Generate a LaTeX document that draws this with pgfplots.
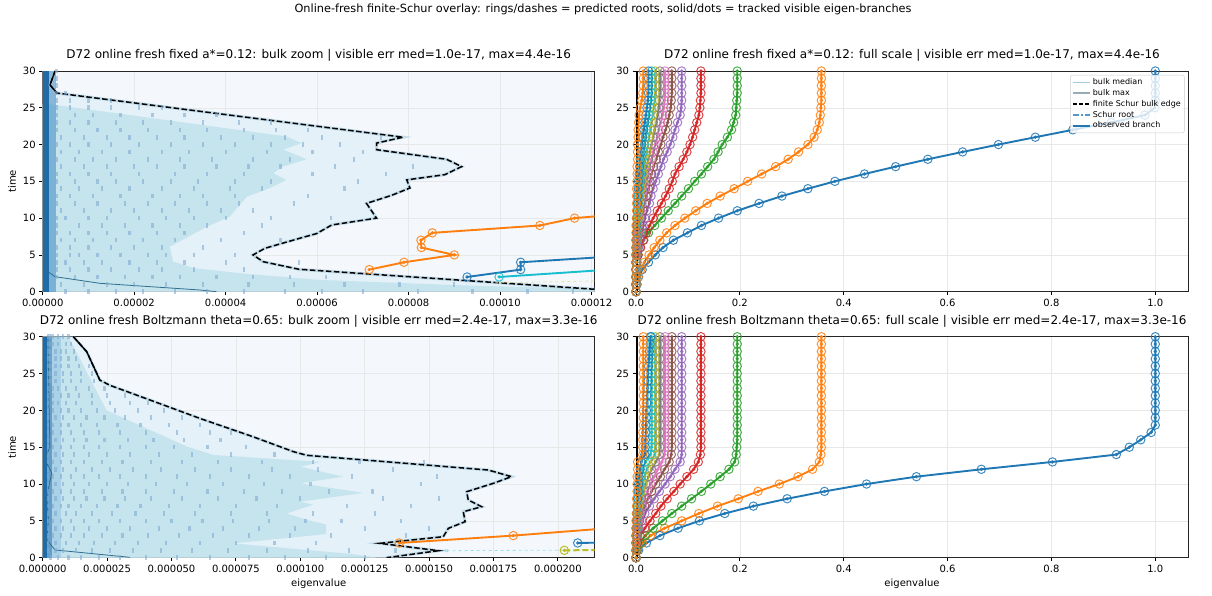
\documentclass[border=0pt]{standalone}
\usepackage{fontspec}
\setmainfont{DejaVu Sans}
\usepackage{pgfplots}
\usepackage{pgfplotstable}
\pgfplotsset{compat=1.18}

\definecolor{tabblue}{HTML}{1F77B4}
\definecolor{taborange}{HTML}{FF7F0E}
\definecolor{tabgreen}{HTML}{2CA02C}
\definecolor{tabred}{HTML}{D62728}
\definecolor{tabpurple}{HTML}{9467BD}
\definecolor{tabbrown}{HTML}{8C564B}
\definecolor{tabpink}{HTML}{E377C2}
\definecolor{tabgray}{HTML}{7F7F7F}
\definecolor{tabolive}{HTML}{BCBD22}
\definecolor{tabcyan}{HTML}{17BECF}
\definecolor{bgA}{HTML}{F4F8FC}
\definecolor{regA}{HTML}{E4F1F8}
\definecolor{regB}{HTML}{C6E4EE}
\definecolor{ptc}{HTML}{7FABD2}
\definecolor{colA}{HTML}{1F6BA8}
\definecolor{colB}{HTML}{4A8FC4}
\definecolor{colC}{HTML}{8FBFDF}
\definecolor{medline}{HTML}{2F6F8F}
\definecolor{bulkmed}{HTML}{A6CBE0}
\definecolor{bulkmax}{HTML}{9AABB8}
\definecolor{schur}{HTML}{5599CC}

\pgfdeclareplotmark{ringdot}{%
  \pgfpathcircle{\pgfpointorigin}{\pgfplotmarksize}\pgfusepathqstroke
  \pgfpathcircle{\pgfpointorigin}{0.28\pgfplotmarksize}\pgfusepathqfillstroke}

\pgfplotsset{
  panel/.style={
    scale only axis, width=552pt, height=220.7pt, anchor=south west,
    xmin=0, ymin=0, ymax=30, ytick={0,5,...,30},
    tick align=outside, tick pos=left, major tick length=3.5pt,
    every tick/.style={black, line width=0.8pt},
    axis line style={line width=0.8pt, black!85},
    grid=major, major grid style={black!9, line width=0.5pt},
    ticklabel style={font=\fontsize{10}{12}\selectfont},
    /pgf/number format/assume math mode=true,
    scaled x ticks=false,
    title style={font=\fontsize{12}{14}\selectfont, anchor=base, yshift=6pt},
    label style={font=\fontsize{10}{12}\selectfont},
  },
  branch/.style={line width=1.9pt, mark=ringdot, mark size=4.2pt,
    mark options={solid, line width=1pt, draw opacity=0.85}},
  pts/.style={only marks, mark=|, mark size=2.3pt, ptc, opacity=0.6,
    mark options={line width=2.2pt}},
}

\pgfplotstableread{
t a b c d e f g h i j k l
0 0 0 0 0 0 0 0 0 0 0 0 0
1 0.002 0.001 0 0 0 0 0 0 0 0 0 0
2 0.005 0.004 0.001 0 0 0 0 0 0 0 0 0
3 0.012 0.009 0.001 0 0 0 0 0 0 0 0 0
4 0.024 0.016 0.002 0.001 0 0 0.001 0 0 0 0 0
5 0.037 0.025 0.004 0.004 0.002 0.001 0.001 0.001 0 0 0 0
6 0.052 0.035 0.008 0.009 0.005 0.003 0.002 0.001 0.001 0 0 0
7 0.072 0.046 0.015 0.014 0.008 0.004 0.003 0.002 0.001 0.001 0 0
8 0.099 0.059 0.024 0.020 0.011 0.006 0.004 0.003 0.002 0.001 0.001 0
9 0.126 0.075 0.036 0.026 0.014 0.008 0.005 0.004 0.003 0.002 0.001 0
10 0.159 0.094 0.049 0.033 0.017 0.011 0.007 0.005 0.004 0.002 0.001 0.001
11 0.195 0.115 0.062 0.041 0.021 0.014 0.009 0.007 0.005 0.003 0.002 0.001
12 0.237 0.137 0.075 0.049 0.026 0.017 0.011 0.009 0.006 0.004 0.003 0.001
13 0.281 0.162 0.088 0.057 0.029 0.020 0.014 0.011 0.008 0.005 0.003 0.001
14 0.331 0.189 0.101 0.064 0.033 0.024 0.017 0.013 0.010 0.006 0.004 0.001
15 0.383 0.215 0.113 0.070 0.038 0.027 0.020 0.016 0.012 0.008 0.005 0.002
16 0.440 0.242 0.126 0.075 0.043 0.030 0.023 0.018 0.014 0.009 0.006 0.002
17 0.500 0.269 0.138 0.083 0.048 0.034 0.026 0.021 0.016 0.011 0.007 0.002
18 0.562 0.293 0.150 0.091 0.053 0.039 0.030 0.024 0.018 0.012 0.008 0.003
19 0.629 0.313 0.158 0.098 0.060 0.043 0.033 0.027 0.021 0.014 0.010 0.003
20 0.698 0.331 0.166 0.104 0.066 0.048 0.037 0.030 0.023 0.016 0.011 0.003
21 0.769 0.343 0.176 0.109 0.071 0.052 0.041 0.033 0.025 0.018 0.013 0.004
22 0.841 0.349 0.184 0.113 0.075 0.057 0.044 0.036 0.028 0.020 0.015 0.004
23 0.915 0.353 0.188 0.117 0.080 0.061 0.048 0.039 0.030 0.022 0.017 0.005
24 0.980 0.355 0.192 0.121 0.085 0.064 0.051 0.042 0.032 0.025 0.019 0.006
25 0.999 0.356 0.193 0.123 0.087 0.067 0.054 0.044 0.034 0.027 0.021 0.008
26 1.000 0.357 0.194 0.124 0.088 0.068 0.055 0.045 0.036 0.029 0.023 0.011
27 1.000 0.357 0.195 0.125 0.088 0.069 0.056 0.046 0.037 0.030 0.024 0.013
28 1.000 0.357 0.195 0.125 0.088 0.069 0.056 0.046 0.037 0.030 0.024 0.014
29 1.000 0.357 0.195 0.125 0.088 0.069 0.056 0.046 0.037 0.030 0.024 0.014
30 1.000 0.357 0.195 0.125 0.088 0.069 0.056 0.046 0.037 0.030 0.024 0.014
}\tabfixed

\pgfplotstableread{
t a b c d e f g h i j k l
0 0 0 0 0 0 0 0 0 0 0 0 0
1 0.005 0.003 0.002 0.001 0 0 0 0 0 0 0 0
2 0.020 0.012 0.008 0.003 0.001 0.001 0 0 0 0 0 0
3 0.046 0.028 0.018 0.008 0.003 0.002 0.001 0.001 0 0 0 0
4 0.081 0.055 0.033 0.017 0.006 0.004 0.003 0.002 0.001 0.001 0 0
5 0.122 0.088 0.051 0.027 0.011 0.007 0.005 0.003 0.002 0.001 0.001 0
6 0.171 0.121 0.069 0.038 0.017 0.011 0.008 0.005 0.003 0.002 0.001 0.001
7 0.226 0.157 0.088 0.048 0.026 0.017 0.012 0.008 0.005 0.003 0.002 0.001
8 0.291 0.197 0.107 0.060 0.035 0.023 0.016 0.011 0.007 0.004 0.003 0.001
9 0.363 0.235 0.126 0.073 0.045 0.030 0.022 0.015 0.010 0.006 0.004 0.002
10 0.444 0.276 0.144 0.085 0.056 0.038 0.028 0.019 0.013 0.008 0.005 0.002
11 0.540 0.312 0.162 0.098 0.066 0.047 0.035 0.024 0.017 0.010 0.006 0.002
12 0.665 0.340 0.179 0.111 0.075 0.055 0.042 0.030 0.021 0.013 0.008 0.003
13 0.802 0.353 0.190 0.120 0.085 0.064 0.050 0.038 0.028 0.018 0.010 0.003
14 0.925 0.356 0.193 0.124 0.088 0.068 0.055 0.045 0.036 0.028 0.017 0.013
15 0.950 0.357 0.194 0.125 0.088 0.069 0.056 0.046 0.037 0.030 0.018 0.013
16 0.972 0.357 0.195 0.125 0.088 0.069 0.056 0.046 0.037 0.030 0.018 0.013
17 0.992 0.357 0.195 0.125 0.088 0.069 0.056 0.046 0.037 0.030 0.019 0.013
18 1.000 0.357 0.195 0.125 0.088 0.069 0.056 0.046 0.037 0.030 0.019 0.014
19 1.000 0.357 0.195 0.125 0.088 0.069 0.056 0.046 0.037 0.030 0.020 0.014
20 1.000 0.357 0.195 0.125 0.088 0.069 0.056 0.046 0.037 0.030 0.020 0.014
21 1.000 0.357 0.195 0.125 0.088 0.069 0.056 0.046 0.037 0.030 0.021 0.014
22 1.000 0.357 0.195 0.125 0.088 0.069 0.056 0.046 0.037 0.030 0.021 0.014
23 1.000 0.357 0.195 0.125 0.088 0.069 0.056 0.046 0.037 0.030 0.022 0.014
24 1.000 0.357 0.195 0.125 0.088 0.069 0.056 0.046 0.037 0.030 0.023 0.014
25 1.000 0.357 0.195 0.125 0.088 0.069 0.056 0.046 0.037 0.030 0.023 0.014
26 1.000 0.357 0.195 0.125 0.088 0.069 0.056 0.046 0.037 0.030 0.024 0.014
27 1.000 0.357 0.195 0.125 0.088 0.069 0.056 0.046 0.037 0.030 0.025 0.014
28 1.000 0.357 0.195 0.125 0.088 0.069 0.056 0.046 0.037 0.030 0.026 0.014
29 1.000 0.357 0.195 0.125 0.088 0.069 0.056 0.046 0.037 0.030 0.027 0.014
30 1.000 0.357 0.195 0.125 0.088 0.069 0.056 0.046 0.037 0.030 0.028 0.014
}\tabboltz

\begin{document}
\begin{tikzpicture}
\path[use as bounding box] (0pt,0pt) rectangle (1212pt,596pt);
\node[anchor=base, font=\fontsize{11.3}{13}\selectfont] at (603pt,583.8pt)
  {Online-fresh finite-Schur overlay: rings/dashes = predicted roots, solid/dots = tracked visible eigen-branches};

% ---------- top left: fixed, bulk zoom (x in units of 1e-5)
\begin{axis}[panel, at={(42.7pt,304.3pt)}, xmax=12.07,
  xtick={0,2,4,6,8,10,12},
  xticklabels={0.00000,0.00002,0.00004,0.00006,0.00008,0.00010,0.00012},
  ylabel={time}, axis background/.style={fill=bgA},
  title={D72 online fresh fixed a*=0.12: bulk zoom | visible err med=1.0e-17, max=4.4e-16}]
\addplot[draw=none, fill=regA] coordinates {(0,0) (12.07,0) (12.07,0.33) (5.6,3.05)
  (4.82,4.08) (4.6,5.0) (4.86,5.9) (5.62,7.26) (5.99,7.9) (6.32,9.07) (7.3,10)
  (7.08,12) (7.63,13.1) (8.03,14.1) (7.96,15.2) (8.79,15.9) (9.16,17) (8.83,18)
  (7.3,19.3) (7.3,20.2) (7.88,21) (0.31,27) (0.16,28.1) (0.27,30) (0,30)} --cycle;
\addplot[draw=none, fill=regB] coordinates {(0,0) (12.07,0) (12.07,0.35) (9,0.9)
  (6.06,1.6) (4.5,2.4) (3.3,3.2) (2.85,4.1) (2.78,6.1) (3.58,8.8) (4.09,10.2)
  (4.46,12.9) (4.97,14.1) (5.33,15.2) (5.04,16.1) (5.25,17) (5.77,18) (5.26,19.3)
  (5.66,20.2) (5.33,21.1) (0.15,25.5) (0,25.5)} --cycle;
\addplot[draw=none, fill=colB, opacity=0.6] coordinates {(0,0) (0.28,0) (0.28,30) (0,30)} --cycle;
\addplot[draw=none, fill=colA] coordinates {(0,0) (0.13,0) (0.13,30) (0,30)} --cycle;
\addplot[pts] coordinates {
 (0.5,0) (1.0,0) (1.6,0) (2.2,0) (2.9,0) (3.6,0) (4.4,0) (5.3,0) (6.1,0) (7.0,0) (8.2,0) (9.4,0) (10.6,0) (11.6,0)
 (0.4,1) (0.9,1) (1.4,1) (2.0,1) (2.7,1) (3.5,1) (4.5,1) (5.5,1) (6.6,1) (7.8,1) (9.0,1)
 (0.3,2) (0.7,2) (1.2,2) (1.8,2) (2.4,2) (3.0,2) (3.8,2) (4.6,2) (5.4,2) (6.2,2)
 (0.3,3) (0.6,3) (1.0,3) (1.5,3) (2.1,3) (2.6,3) (3.3,3) (4.4,3)
 (0.3,4) (0.5,4) (0.9,4) (1.3,4) (1.9,4) (2.5,4) (3.1,4) (4.0,4) (5.6,4)
 (0.3,5) (0.6,5) (0.8,5) (1.2,5) (1.7,5) (2.3,5) (2.7,5) (3.3,5) (4.2,5)
 (0.3,6) (0.6,6) (1.0,6) (1.5,6) (2.0,6) (2.6,6) (3.5,6)
 (0.4,7) (0.7,7) (1.1,7) (1.6,7) (2.2,7) (2.9,7) (3.9,7) (5.2,7)
 (0.3,8) (0.6,8) (1.0,8) (1.4,8) (1.9,8) (2.5,8) (3.1,8) (4.4,8)
 (0.3,9) (0.8,9) (1.3,9) (1.8,9) (2.4,9) (3.0,9) (3.6,9) (4.8,9)
 (0.3,10) (0.5,10) (1.0,10) (1.4,10) (2.1,10) (2.7,10) (3.3,10) (4.0,10) (5.0,10) (6.3,10)
 (0.4,11) (0.9,11) (1.5,11) (2.0,11) (2.6,11) (3.2,11) (3.9,11) (4.6,11)
 (0.3,12) (0.7,12) (1.2,12) (1.8,12) (2.3,12) (2.9,12) (3.6,12) (4.3,12) (5.5,12)
 (0.3,13) (0.6,13) (1.1,13) (1.7,13) (2.4,13) (3.0,13) (3.5,13) (4.2,13) (5.8,13)
 (0.4,14) (0.8,14) (1.3,14) (1.9,14) (2.6,14) (3.3,14) (4.1,14) (4.8,14) (6.6,14)
 (0.3,15) (0.7,15) (1.2,15) (1.6,15) (2.2,15) (2.8,15) (3.4,15) (4.2,15) (5.0,15) (6.9,15)
 (0.3,16) (0.6,16) (1.0,16) (1.5,16) (2.1,16) (2.9,16) (3.6,16) (4.4,16) (5.9,16) (7.5,16)
 (0.4,17) (0.9,17) (1.4,17) (2.0,17) (2.5,17) (3.1,17) (3.8,17) (4.5,17) (5.2,17) (6.4,17) (8.1,17)
 (0.3,18) (0.7,18) (1.1,18) (1.6,18) (2.3,18) (3.0,18) (3.7,18) (4.6,18) (5.4,18) (6.8,18)
 (0.4,19) (0.8,19) (1.3,19) (1.9,19) (2.6,19) (3.2,19) (4.0,19) (4.9,19) (5.9,19) (7.0,19)
 (0.3,20) (0.6,20) (1.0,20) (1.5,20) (2.1,20) (2.8,20) (3.5,20) (4.2,20) (5.0,20) (5.7,20) (6.5,20)
 (0.4,21) (0.9,21) (1.4,21) (1.9,21) (2.5,21) (3.1,21) (3.9,21) (4.6,21) (5.3,21) (6.1,21) (7.4,21)
 (0.3,22) (0.7,22) (1.2,22) (1.7,22) (2.3,22) (3.0,22) (3.6,22) (4.4,22) (5.1,22) (5.8,22)
 (0.3,23) (0.6,23) (1.0,23) (1.6,23) (2.2,23) (2.8,23) (3.5,23) (4.3,23) (5.0,23)
 (0.3,24) (0.7,24) (1.1,24) (1.7,24) (2.4,24) (3.1,24) (3.8,24)
 (0.3,25) (0.6,25) (1.0,25) (1.5,25) (2.1,25) (2.6,25)
 (0.3,26) (0.6,26) (1.0,26) (1.5,26)
 (0.3,27) (0.5,27) (0.3,28) (0.3,29) (0.3,30)};
\addplot[medline, line width=0.8pt] coordinates {(0.05,30) (0.05,3.0) (0.27,2.04) (1.25,1.14) (3.44,0.23) (3.8,0)};
\addplot[bulkmed, line width=3pt, opacity=0.6] coordinates {(12.07,0.33) (5.6,3.05)
  (4.82,4.08) (4.6,5.0) (4.86,5.9) (5.62,7.26) (5.99,7.9) (6.32,9.07) (7.3,10)
  (7.08,12) (7.63,13.1) (8.03,14.1) (7.96,15.2) (8.79,15.9) (9.16,17) (8.83,18)
  (7.3,19.3) (7.3,20.2) (7.88,21) (0.31,27) (0.16,28.1) (0.27,30)};
\addplot[black, line width=1.5pt, dash pattern=on 5.5pt off 2.5pt] coordinates {(12.07,0.33) (5.6,3.05)
  (4.82,4.08) (4.6,5.0) (4.86,5.9) (5.62,7.26) (5.99,7.9) (6.32,9.07) (7.3,10)
  (7.08,12) (7.63,13.1) (8.03,14.1) (7.96,15.2) (8.79,15.9) (9.16,17) (8.83,18)
  (7.3,19.3) (7.3,20.2) (7.88,21) (0.31,27) (0.16,28.1) (0.27,30)};
\addplot[black, line width=1.3pt] coordinates {(0.31,27) (0.16,28.1) (0.27,30)};
\addplot[taborange, branch] coordinates {(7.14,3) (7.90,4) (9.0,5) (8.28,6) (8.27,7) (8.52,8) (10.87,9) (11.63,10) (13.5,11)};
\addplot[tabblue, branch] coordinates {(9.28,2) (10.45,3) (10.45,4) (13.0,5)};
\addplot[tabcyan, branch] coordinates {(9.98,2) (12.4,3)};
\addplot[tabolive!40, line width=0.8pt, dashed] coordinates {(9.9,1.2) (12.07,1.45)};
\end{axis}

% ---------- top right: fixed, full scale
\begin{axis}[panel, at={(636pt,304.3pt)}, xmax=1.063,
  xtick={0,0.2,0.4,0.6,0.8,1.0}, xticklabels={0.0,0.2,0.4,0.6,0.8,1.0},
  title={D72 online fresh fixed a*=0.12: full scale | visible err med=1.0e-17, max=4.4e-16},
  legend cell align=left,
  legend style={at={(1,1)}, anchor=north east, xshift=-3.5pt, yshift=-4pt,
    font=\fontsize{8}{9.5}\selectfont, draw=black!20, fill=white, fill opacity=0.8,
    text opacity=1, rounded corners=2pt, inner sep=1.5pt, row sep=-0.8pt}]
\addplot[tabblue, branch, forget plot] table[x=a, y=t] {\tabfixed};
\addplot[taborange, branch, forget plot] table[x=b, y=t] {\tabfixed};
\addplot[tabgreen, branch, forget plot] table[x=c, y=t] {\tabfixed};
\addplot[tabred, branch, forget plot] table[x=d, y=t] {\tabfixed};
\addplot[tabpurple, branch, forget plot] table[x=e, y=t] {\tabfixed};
\addplot[tabbrown, branch, forget plot] table[x=f, y=t] {\tabfixed};
\addplot[tabpink, branch, forget plot] table[x=g, y=t] {\tabfixed};
\addplot[tabgray, branch, forget plot] table[x=h, y=t] {\tabfixed};
\addplot[tabolive, branch, forget plot] table[x=i, y=t] {\tabfixed};
\addplot[tabcyan, branch, forget plot] table[x=j, y=t] {\tabfixed};
\addplot[tabblue, branch, forget plot] table[x=k, y=t] {\tabfixed};
\addplot[taborange, branch, forget plot] table[x=l, y=t] {\tabfixed};
\addplot[black, line width=3pt, forget plot] coordinates {(0.0015,0) (0.0015,30)};
\addlegendimage{bulkmed, line width=1.6pt}\addlegendentry{bulk median}
\addlegendimage{bulkmax, line width=1.6pt}\addlegendentry{bulk max}
\addlegendimage{black, line width=1.6pt, dash pattern=on 4pt off 2pt}\addlegendentry{finite Schur bulk edge}
\addlegendimage{schur, line width=2pt, dash pattern=on 6pt off 2.5pt on 1.5pt off 2.5pt}\addlegendentry{Schur root}
\addlegendimage{tabblue, line width=1.9pt}\addlegendentry{observed branch}
\end{axis}

% ---------- bottom left: Boltzmann, bulk zoom
\begin{axis}[panel, at={(42.7pt,38.3pt)}, height=221pt, xmax=21.43,
  xtick={0,2.5,5,7.5,10,12.5,15,17.5,20},
  xticklabels={0.000000,0.000025,0.000050,0.000075,0.000100,0.000125,0.000150,0.000175,0.000200},
  xlabel={eigenvalue}, ylabel={time}, axis background/.style={fill=bgA},
  title={D72 online fresh Boltzmann theta=0.65: bulk zoom | visible err med=2.4e-17, max=3.3e-16}]
\addplot[draw=none, fill=regA] coordinates {(0,0) (13.35,0) (15.36,0.95) (13.09,1.95)
  (15.55,2.85) (15.75,3.99) (16.4,4.89) (16.33,6.24) (17.04,6.92) (16.52,7.83)
  (16.46,8.96) (17.5,10.1) (18.2,11.0) (17.3,11.9) (10.25,13.9) (9.73,14.4)
  (8.18,16.4) (6.11,18.9) (4.17,21.4) (2.61,23.4) (2.22,24.1) (1.71,27.96) (1.19,30) (0,30)} --cycle;
\addplot[draw=none, fill=regB] coordinates {(0,0) (13.0,0) (12.0,0.5) (7.4,1.95)
  (11.0,3.2) (11.0,4.5) (10.4,5.0) (9.47,6.0) (10.5,7.2) (10.0,7.6) (12.45,8.8)
  (10.0,10.1) (11.67,11.0) (10.0,12.35) (10.8,13.0) (6.62,13.95) (5.59,15.1)
  (2.48,20.0) (1.0,30) (0,30)} --cycle;
\addplot[draw=none, fill=colC, opacity=0.5] coordinates {(0,0) (0.7,0) (0.7,30) (0,30)} --cycle;
\addplot[draw=none, fill=colB, opacity=0.75] coordinates {(0,0) (0.38,0) (0.38,30) (0,30)} --cycle;
\addplot[draw=none, fill=colA] coordinates {(0,0) (0.16,0) (0.16,30) (0,30)} --cycle;
\addplot[pts] coordinates {
 (0.3,0) (0.6,0) (1.0,0) (1.5,0) (2.2,0) (3.0,0) (4.0,0) (5.2,0) (6.5,0) (8.0,0) (9.4,0) (11.0,0) (12.5,0)
 (0.2,1) (0.5,1) (0.8,1) (1.3,1) (1.9,1) (2.6,1) (3.5,1) (4.6,1) (5.8,1) (7.2,1) (8.7,1) (10.3,1) (11.9,1) (13.7,1)
 (0.2,2) (0.5,2) (0.9,2) (1.4,2) (2.0,2) (2.8,2) (3.7,2) (4.8,2) (6.1,2) (7.5,2) (9.0,2) (10.6,2)
 (0.2,3) (0.4,3) (0.7,3) (1.1,3) (1.6,3) (2.3,3) (3.1,3) (4.1,3) (5.3,3) (6.6,3) (8.0,3) (9.6,3) (11.2,3) (14.1,3)
 (0.2,4) (0.5,4) (0.8,4) (1.2,4) (1.8,4) (2.5,4) (3.4,4) (4.5,4) (5.7,4) (7.0,4) (8.4,4) (9.8,4) (12.5,4) (15.0,4)
 (0.2,5) (0.4,5) (0.7,5) (1.1,5) (1.6,5) (2.2,5) (3.0,5) (4.0,5) (5.0,5) (6.2,5) (7.4,5) (8.8,5) (10.2,5) (11.6,5) (13.9,5)
 (0.2,6) (0.5,6) (0.9,6) (1.3,6) (1.9,6) (2.7,6) (3.6,6) (4.7,6) (5.9,6) (7.3,6) (8.7,6) (10.5,6) (12.9,6)
 (0.2,7) (0.4,7) (0.7,7) (1.0,7) (1.5,7) (2.1,7) (2.9,7) (3.8,7) (4.9,7) (6.1,7) (7.5,7) (9.1,7) (11.8,7) (14.3,7)
 (0.2,8) (0.5,8) (0.8,8) (1.2,8) (1.7,8) (2.4,8) (3.2,8) (4.2,8) (5.4,8) (6.8,8) (8.3,8) (10.0,8) (13.2,8) (15.4,8)
 (0.2,9) (0.4,9) (0.7,9) (1.1,9) (1.6,9) (2.3,9) (3.1,9) (4.0,9) (5.1,9) (6.4,9) (7.8,9) (9.3,9) (11.1,9) (12.8,9)
 (0.2,10) (0.5,10) (0.8,10) (1.2,10) (1.8,10) (2.5,10) (3.3,10) (4.4,10) (5.6,10) (7.0,10) (8.6,10) (10.4,10) (14.7,10)
 (0.2,11) (0.4,11) (0.7,11) (1.1,11) (1.6,11) (2.2,11) (3.0,11) (4.0,11) (5.2,11) (6.5,11) (8.0,11) (9.6,11) (12.0,11) (15.3,11)
 (0.2,12) (0.5,12) (0.8,12) (1.3,12) (1.9,12) (2.6,12) (3.5,12) (4.6,12) (5.9,12) (7.3,12) (8.9,12) (10.7,12) (13.6,12)
 (0.2,13) (0.4,13) (0.7,13) (1.1,13) (1.6,13) (2.3,13) (3.1,13) (4.2,13) (5.4,13) (6.8,13) (8.5,13) (10.5,13) (12.3,13) (14.8,13)
 (0.2,14) (0.5,14) (0.8,14) (1.2,14) (1.8,14) (2.5,14) (3.4,14) (4.5,14) (5.8,14) (7.3,14) (9.0,14)
 (0.2,15) (0.4,15) (0.7,15) (1.1,15) (1.6,15) (2.2,15) (3.0,15) (4.0,15) (5.1,15) (6.4,15) (7.9,15)
 (0.2,16) (0.5,16) (0.8,16) (1.2,16) (1.7,16) (2.4,16) (3.3,16) (4.3,16) (5.5,16) (6.9,16)
 (0.2,17) (0.4,17) (0.7,17) (1.1,17) (1.6,17) (2.2,17) (3.0,17) (4.0,17) (5.2,17) (6.5,17) (7.3,17)
 (0.2,18) (0.4,18) (0.7,18) (1.0,18) (1.5,18) (2.1,18) (2.9,18) (3.8,18) (4.9,18) (6.1,18)
 (0.2,19) (0.5,19) (0.8,19) (1.2,19) (1.7,19) (2.4,19) (3.2,19) (4.2,19) (5.4,19)
 (0.2,20) (0.4,20) (0.7,20) (1.0,20) (1.5,20) (2.1,20) (2.8,20) (3.7,20) (4.7,20)
 (0.2,21) (0.4,21) (0.6,21) (0.9,21) (1.3,21) (1.9,21) (2.6,21) (3.4,21) (4.1,21)
 (0.2,22) (0.4,22) (0.7,22) (1.0,22) (1.4,22) (1.9,22) (2.5,22) (3.2,22)
 (0.2,23) (0.4,23) (0.6,23) (0.9,23) (1.3,23) (1.8,23) (2.4,23)
 (0.2,24) (0.3,24) (0.5,24) (0.8,24) (1.1,24) (1.5,24) (2.0,24)
 (0.2,25) (0.3,25) (0.5,25) (0.8,25) (1.1,25) (1.5,25) (1.9,25)
 (0.2,26) (0.3,26) (0.5,26) (0.7,26) (1.0,26) (1.4,26) (1.8,26)
 (0.2,27) (0.3,27) (0.5,27) (0.7,27) (1.0,27) (1.3,27)
 (0.2,28) (0.3,28) (0.5,28) (0.7,28) (0.9,28) (1.2,28)
 (0.2,29) (0.3,29) (0.4,29) (0.6,29) (0.9,29) (1.1,29)
 (0.2,30) (0.3,30) (0.4,30) (0.6,30) (0.8,30) (1.0,30)};
\addplot[medline, line width=0.8pt] coordinates {(0.2,30) (0.25,20) (0.28,15.1) (0.09,13.3) (0.35,11.5) (0.16,8.3) (0.22,5.1) (0.16,2.4) (0.48,1.05) (3.39,0.05)};
\addplot[bulkmed, line width=3pt, opacity=0.6] coordinates {(1.19,30) (1.71,27.96) (2.22,24.1) (2.61,23.4)
  (4.17,21.4) (6.11,18.9) (8.18,16.4) (9.73,14.4) (10.25,13.9) (17.3,11.9) (18.2,11.0)
  (17.5,10.1) (16.46,8.96) (16.52,7.83) (17.04,6.92) (16.33,6.24) (16.4,4.89)
  (15.75,3.99) (15.55,2.85) (13.09,1.95) (15.36,0.95) (13.35,0)};
\addplot[black, line width=1.5pt, dash pattern=on 5.5pt off 2.5pt] coordinates {(1.19,30) (1.71,27.96) (2.22,24.1) (2.61,23.4)
  (4.17,21.4) (6.11,18.9) (8.18,16.4) (9.73,14.4) (10.25,13.9) (17.3,11.9) (18.2,11.0)
  (17.5,10.1) (16.46,8.96) (16.52,7.83) (17.04,6.92) (16.33,6.24) (16.4,4.89)
  (15.75,3.99) (15.55,2.85) (13.09,1.95) (15.36,0.95) (13.35,0)};
\addplot[black, line width=1.3pt] coordinates {(1.19,30) (1.71,27.96) (2.22,24.1)};
\addplot[tabcyan!45, line width=0.8pt, dashed, mark=x, mark size=2pt, mark indices={1}, mark options={solid}] coordinates {(15.68,0.95) (21.43,1.05)};
\addplot[tabolive, line width=2pt, dash pattern=on 6pt off 3pt, mark=ringdot, mark size=4.2pt, mark indices={1}, mark options={solid, line width=1pt}] coordinates {(20.25,1) (40,1.5)};
\addplot[taborange, branch] coordinates {(13.84,2) (18.27,3) (21.95,4)};
\addplot[tabblue, branch] coordinates {(20.77,2) (40,3)};
\end{axis}

% ---------- bottom right: Boltzmann, full scale
\begin{axis}[panel, at={(636pt,38.3pt)}, height=221pt, xmax=1.063,
  xtick={0,0.2,0.4,0.6,0.8,1.0}, xticklabels={0.0,0.2,0.4,0.6,0.8,1.0},
  xlabel={eigenvalue},
  title={D72 online fresh Boltzmann theta=0.65: full scale | visible err med=2.4e-17, max=3.3e-16}]
\addplot[tabblue, branch] table[x=a, y=t] {\tabboltz};
\addplot[taborange, branch] table[x=b, y=t] {\tabboltz};
\addplot[tabgreen, branch] table[x=c, y=t] {\tabboltz};
\addplot[tabred, branch] table[x=d, y=t] {\tabboltz};
\addplot[tabpurple, branch] table[x=e, y=t] {\tabboltz};
\addplot[tabbrown, branch] table[x=f, y=t] {\tabboltz};
\addplot[tabpink, branch] table[x=g, y=t] {\tabboltz};
\addplot[tabgray, branch] table[x=h, y=t] {\tabboltz};
\addplot[tabolive, branch] table[x=i, y=t] {\tabboltz};
\addplot[tabcyan, branch] table[x=j, y=t] {\tabboltz};
\addplot[tabblue, branch] table[x=k, y=t] {\tabboltz};
\addplot[taborange, branch] table[x=l, y=t] {\tabboltz};
\addplot[black, line width=3pt] coordinates {(0.0015,0) (0.0015,30)};
\end{axis}
\end{tikzpicture}
\end{document}
